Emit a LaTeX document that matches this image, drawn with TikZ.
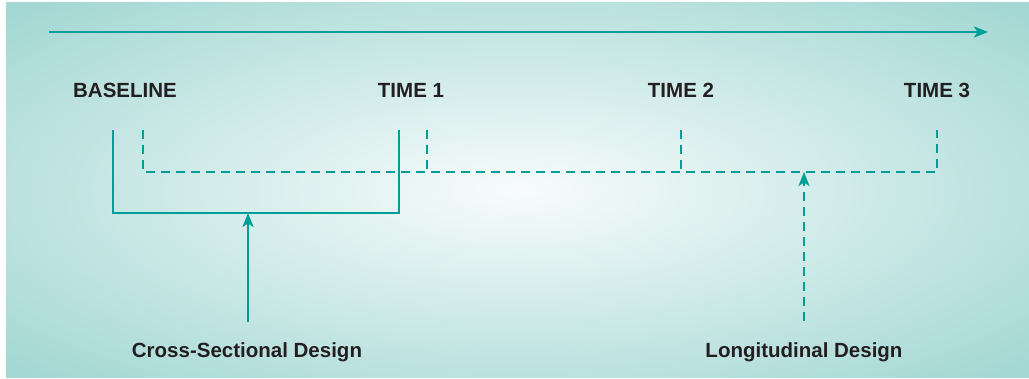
\documentclass[tikz,border=0pt]{standalone}
\usepackage{fontspec}
\setmainfont{Liberation Sans}
\usetikzlibrary{arrows.meta}
\definecolor{bgteal}{RGB}{164,216,212}
\definecolor{lineteal}{RGB}{0,158,150}
\definecolor{txt}{RGB}{35,31,32}
\pgfdeclareradialshading{bgshade}{\pgfpoint{0bp}{0bp}}{color(0bp)=(white!92!bgteal); color(34bp)=(bgteal); color(50bp)=(bgteal)}
\begin{document}
\begin{tikzpicture}[x=1pt,y=-1pt,
  lab/.style={anchor=base, inner sep=0pt, text=txt, font=\bfseries\fontsize{20.5}{24}\selectfont},
  conn/.style={draw=lineteal, line width=2.2pt},
  dconn/.style={conn, dash pattern=on 9pt off 6pt},
  tip/.style={-{Stealth[length=14pt,width=11pt,inset=3.5pt]}}]
\useasboundingbox (0,0) rectangle (1029,379);
\shade[shading=bgshade] (6,3) rectangle (1029,378);
% labels
\node[lab] (base) at (125,98) {BASELINE};
\node[lab] (t1) at (411,98) {TIME 1};
\node[lab] (t2) at (681,98) {TIME 2};
\node[lab] (t3) at (937,98) {TIME 3};
\node[lab] (cs) at (247,358) {Cross-Sectional Design};
\node[lab] (lg) at (804,358) {Longitudinal Design};
% coordinates
\coordinate (tl) at (49,32);
\coordinate (tr) at (988,32);
\coordinate (csL) at (113,130);
\coordinate (csR) at (399,130);
\coordinate (csMid) at (248,213);
\coordinate (csStart) at (248,322);
\coordinate (lgL) at (143,130);
\coordinate (lgR) at (937,130);
\coordinate (lgMid) at (804,172);
\coordinate (lgStart) at (804,321);
\coordinate (k1) at (427,130);
\coordinate (k1b) at (427,172);
\coordinate (k2) at (681,130);
\coordinate (k2b) at (681,172);
% time axis
\draw[conn,tip] (tl) -- (tr);
% cross-sectional bracket
\draw[conn] (csL) |- (csMid) -| (csR);
\draw[conn,tip] (csStart) -- (csMid);
% longitudinal bracket
\draw[dconn] (lgL) |- (lgMid) -| (lgR);
\draw[dconn] (k1) -- (k1b);
\draw[dconn] (k2) -- (k2b);
\draw[dconn,tip] (lgStart) -- (lgMid);
\end{tikzpicture}
\end{document}
